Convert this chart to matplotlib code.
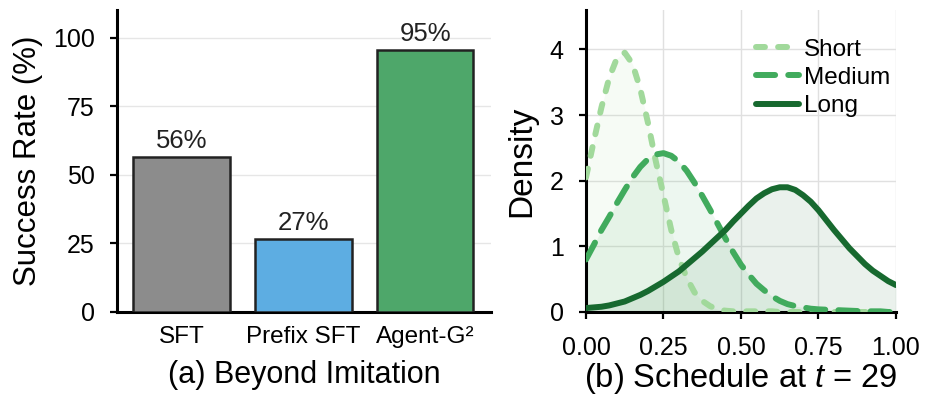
import numpy as np
import matplotlib
matplotlib.use("Agg")
import matplotlib.pyplot as plt

plt.rcParams['font.family'] = ['Liberation Sans', 'DejaVu Sans']
plt.rcParams['mathtext.fontset'] = 'custom'
plt.rcParams['mathtext.rm'] = 'Liberation Sans'
plt.rcParams['mathtext.it'] = 'Liberation Sans:italic'

# (a) success rates
methods = ['SFT', 'Prefix SFT', 'Agent-G²']
success = [56.3, 26.7, 95.3]
success_labels = ['56%', '27%', '95%']
bar_colors = ['#8c8c8c', '#5dade2', '#4ea76a']

# (b) schedule densities at t = 29
sched_x = [0.000, 0.025, 0.050, 0.075, 0.100, 0.125, 0.150, 0.175, 0.200, 0.225,
           0.250, 0.275, 0.300, 0.325, 0.350, 0.375, 0.400, 0.425, 0.450, 0.475,
           0.500, 0.525, 0.550, 0.575, 0.600, 0.625, 0.650, 0.675, 0.700, 0.725,
           0.750, 0.775, 0.800, 0.825, 0.850, 0.875, 0.900, 0.925, 0.950, 0.975,
           1.000]
short = [2.05, 2.60, 3.12, 3.57, 3.87, 3.95, 3.78, 3.40, 2.88, 2.30,
         1.78, 1.25, 0.82, 0.52, 0.30, 0.17, 0.09, 0.04, 0.02, 0.01,
         0.01, 0.01, 0.01, 0.01, 0.01, 0.00, 0.00, 0.00, 0.00, 0.00,
         0.00, 0.00, 0.00, 0.00, 0.00, 0.00, 0.00, 0.00, 0.00, 0.00,
         0.00]
medium = [0.80, 1.02, 1.25, 1.45, 1.66, 1.86, 2.05, 2.21, 2.33, 2.40,
          2.42, 2.38, 2.29, 2.15, 1.97, 1.77, 1.56, 1.34, 1.12, 0.91,
          0.72, 0.57, 0.43, 0.33, 0.24, 0.17, 0.12, 0.09, 0.07, 0.05,
          0.04, 0.035, 0.03, 0.025, 0.02, 0.015, 0.01, 0.01, 0.01, 0.00,
          0.00]
long_ = [0.06, 0.07, 0.08, 0.10, 0.13, 0.16, 0.21, 0.26, 0.32, 0.39,
         0.46, 0.54, 0.62, 0.72, 0.82, 0.92, 1.03, 1.14, 1.25, 1.38,
         1.50, 1.62, 1.73, 1.81, 1.87, 1.90, 1.90, 1.86, 1.78, 1.68,
         1.55, 1.40, 1.25, 1.11, 0.97, 0.85, 0.73, 0.63, 0.55, 0.47,
         0.41]
sched_names = ['Short', 'Medium', 'Long']
sched_colors = ['#a1d99b', '#41ab5d', '#17692f']

fig = plt.figure(figsize=(9.34, 4.19), dpi=100)
ax1 = fig.add_axes([0.1253, 0.2554, 0.4004, 0.7206])
ax2 = fig.add_axes([0.6274, 0.2554, 0.3319, 0.7206])

# ---- left: bars
pos = np.arange(len(methods))
bars = ax1.bar(pos, success, width=0.79, color=bar_colors,
               edgecolor='#222222', linewidth=1.8, zorder=3)
for b, lab in zip(bars, success_labels):
    ax1.text(b.get_x() + b.get_width() / 2, b.get_height() + 1.5, lab,
             ha='center', va='bottom', fontsize=18.5, color='#222222')
ax1.set_xlim(-0.53, 2.54)
ax1.set_ylim(0, 110)
ax1.set_yticks([0, 25, 50, 75, 100])
ax1.set_xticks(pos)
ax1.set_xticklabels(methods, fontsize=17.5)
ax1.tick_params(axis='x', length=0, pad=10)
ax1.tick_params(axis='y', labelsize=18, length=5, width=1.6, pad=11)
ax1.set_ylabel('Success Rate (%)', fontsize=22.5, labelpad=7)
ax1.set_xlabel('(a) Beyond Imitation', fontsize=22, labelpad=9)
ax1.yaxis.grid(True, color='#e6e6e6', linewidth=1.0, zorder=0)
ax1.set_axisbelow(True)
for s in ['top', 'right']:
    ax1.spines[s].set_visible(False)
for s in ['left', 'bottom']:
    ax1.spines[s].set_linewidth(2.2)

# ---- right: densities
styles = [dict(dashes=(1.5, 2.2)), dict(dashes=(3.2, 2.2)), dict(linestyle='-')]
for ys, name, c, st in zip([short, medium, long_], sched_names, sched_colors, styles):
    ax2.fill_between(sched_x, ys, color=c, alpha=0.09, linewidth=0, zorder=1)
    ax2.plot(sched_x, ys, color=c, linewidth=4.3, label=name,
             dash_capstyle='round', solid_capstyle='round', zorder=3, **st)
ax2.set_xlim(0, 1)
ax2.set_ylim(0, 4.6)
ax2.set_xticks([0, 0.25, 0.5, 0.75, 1.0])
ax2.set_xticklabels(['0.00', '0.25', '0.50', '0.75', '1.00'])
ax2.set_yticks([0, 1, 2, 3, 4])
ax2.tick_params(labelsize=18, length=5, width=1.6)
ax2.tick_params(axis='x', pad=12)
ax2.tick_params(axis='y', pad=11)
ax2.set_ylabel('Density', fontsize=24, labelpad=9)
ax2.set_xlabel('(b) Schedule at $t$ = 29', fontsize=23.5, labelpad=1)
ax2.grid(True, color='#e0e0e0', linewidth=1.0, zorder=0)
ax2.set_axisbelow(True)
for s in ['top', 'right']:
    ax2.spines[s].set_visible(False)
for s in ['left', 'bottom']:
    ax2.spines[s].set_linewidth(2.2)
ax2.legend(loc='upper right', frameon=False, fontsize=17.5, handlelength=1.75,
           handletextpad=0.2, labelspacing=0.25, borderaxespad=0.1,
           bbox_to_anchor=(1.02, 0.945))

fig.savefig('out.png', dpi=100)
